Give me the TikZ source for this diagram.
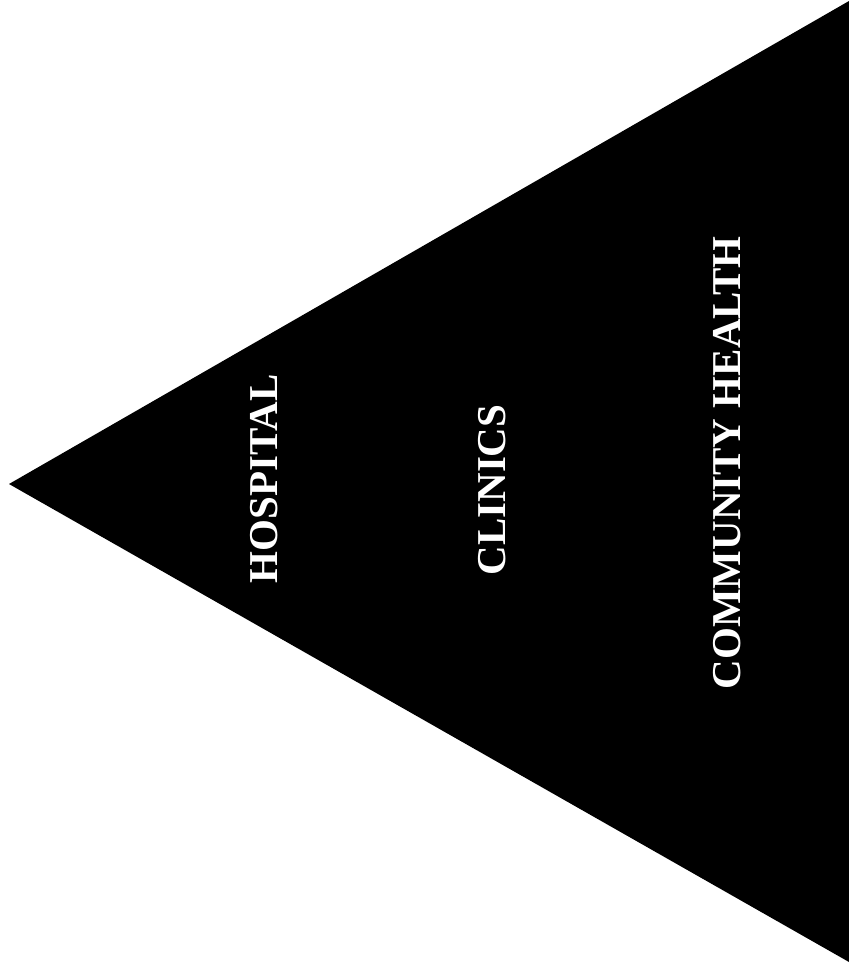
\documentclass[tikz,border=0pt]{standalone}
\usepackage{fontspec}
\setmainfont{Liberation Serif}
\begin{document}
\begin{tikzpicture}[x=1pt,y=-1pt,
  lbl/.style={rotate=90,anchor=base,inner sep=0pt,text=white,font=\bfseries\fontsize{41}{41}\selectfont}]
\useasboundingbox (0,0) rectangle (849,967);
\fill[black] (9,484) coordinate (apex) -- (849,1) coordinate (tr) -- (849,962) coordinate (br) -- cycle;
\node[lbl] (hosp) at (277,479) {HOSPITAL};
\node[lbl] (clin) at (505,490) {CLINICS};
\node[lbl] (comm) at (740,463) {COMMUNITY HEALTH};
\end{tikzpicture}
\end{document}
